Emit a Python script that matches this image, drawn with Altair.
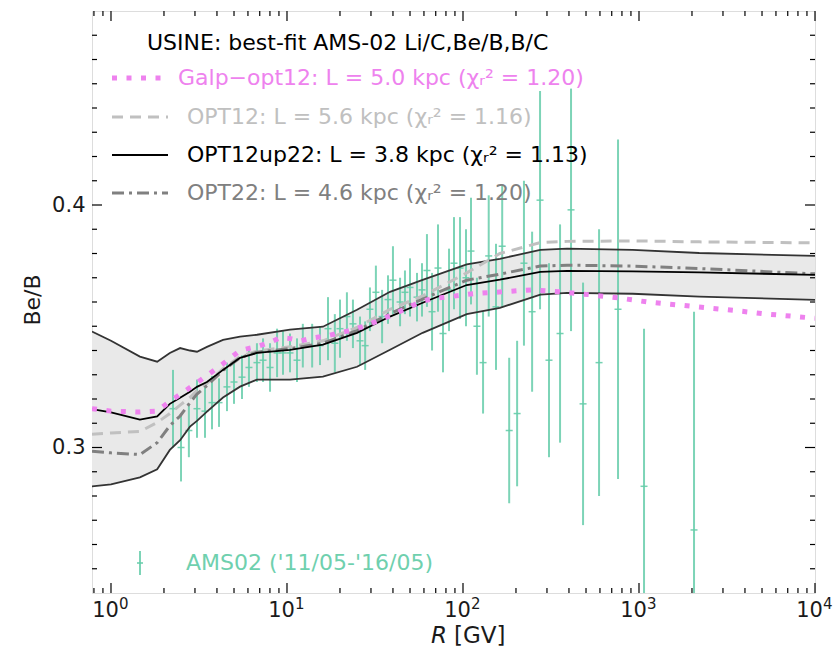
import altair as alt
import pandas as pd

# ---- model curves (Be/B vs rigidity) ----
R_MODEL = [0.78, 1.0, 1.46, 1.83, 2.16, 2.47, 2.81, 3.08, 3.51, 4.33, 5.41, 6.75,
           10.4, 16, 25, 38.5, 59, 105, 162, 275, 390, 920, 2200, 10000]
BAND_LO = [0.2840, 0.2848, 0.2877, 0.2910, 0.2990, 0.3030, 0.3086, 0.3110, 0.3148, 0.3206,
           0.3251, 0.3280, 0.3280, 0.3292, 0.3333, 0.3403, 0.3473, 0.3550, 0.3576, 0.3630,
           0.3638, 0.3634, 0.3622, 0.3609]
BAND_HI = [0.3478, 0.3440, 0.3375, 0.3354, 0.3390, 0.3410, 0.3400, 0.3395, 0.3415, 0.3444,
           0.3457, 0.3465, 0.3486, 0.3498, 0.3568, 0.3642, 0.3691, 0.3755, 0.3778, 0.3815,
           0.3820, 0.3815, 0.3802, 0.3790]
OPT12UP22 = [0.3158, 0.3145, 0.3115, 0.3128, 0.3180, 0.3205, 0.3230, 0.3250, 0.3270, 0.3320,
             0.3370, 0.3390, 0.3403, 0.3424, 0.3473, 0.3540, 0.3597, 0.3670, 0.3692, 0.3724,
             0.3728, 0.3726, 0.3722, 0.3712]
OPT12 = [0.3055, 0.3060, 0.3066, 0.3103, 0.3140, 0.3175, 0.3206, 0.3235, 0.3265, 0.3325,
         0.3375, 0.3398, 0.3415, 0.3440, 0.3495, 0.3570, 0.3625, 0.3720, 0.3800, 0.3845,
         0.3850, 0.3852, 0.3848, 0.3844]
OPT22 = [0.2985, 0.2978, 0.2971, 0.3020, 0.3090, 0.3130, 0.3185, 0.3220, 0.3255, 0.3318,
         0.3370, 0.3393, 0.3408, 0.3430, 0.3482, 0.3552, 0.3612, 0.3690, 0.3715, 0.3748,
         0.3752, 0.3748, 0.3738, 0.3716]

R_GALP = [0.78, 1.0, 1.46, 1.83, 2.16, 3.08, 4.33, 5.41, 6.75, 7.9, 9.2, 10.4, 12.0, 14.3,
          17, 24, 29, 34, 41, 47, 56, 66, 114, 166, 246, 355, 525, 760, 1120, 1660,
          2430, 3600, 5200, 10000]
GALP = [0.3160, 0.3150, 0.3146, 0.3150, 0.3190, 0.3267, 0.3345, 0.3400, 0.3416, 0.3432,
        0.3453, 0.3449, 0.3440, 0.3453, 0.3461, 0.3486, 0.3506, 0.3527, 0.3551, 0.3572,
        0.3597, 0.3613, 0.3634, 0.3642, 0.3650, 0.3642, 0.3630, 0.3617, 0.3600, 0.3588,
        0.3576, 0.3564, 0.3551, 0.3533]

# ---- AMS-02 Be/B data ----
R_AMS = [2.25, 2.50, 2.77, 3.08, 3.42, 3.75, 4.11, 4.56, 5.00, 5.55, 6.08, 6.75, 7.31,
         8.01, 8.78, 9.49, 10.4, 11.4, 12.3, 13.9, 15.4, 17.1, 18.7, 20.0, 21.9, 23.7,
         26.0, 27.8, 29.6, 32.0, 34.7, 37.5, 40.0, 43.9, 46.8, 50.0, 54.8, 58.5, 62.4,
         66.7, 72.1, 77.0, 83.3, 88.9, 96.2, 104, 111, 120, 130, 140, 154, 167, 183,
         203, 222, 247, 274, 308, 356, 411, 481, 593, 760, 1068, 2054]
BEB_AMS = [0.316, 0.300, 0.307, 0.316, 0.315, 0.3185, 0.3185, 0.325, 0.327, 0.329, 0.333,
           0.335, 0.336, 0.333, 0.339, 0.339, 0.339, 0.336, 0.342, 0.342, 0.342, 0.349,
           0.343, 0.349, 0.354, 0.351, 0.344, 0.342, 0.357, 0.364, 0.354, 0.361, 0.369,
           0.360, 0.364, 0.366, 0.362, 0.365, 0.373, 0.356, 0.374, 0.347, 0.365, 0.376,
           0.374, 0.370, 0.381, 0.350, 0.335, 0.379, 0.358, 0.383, 0.307, 0.314, 0.376,
           0.356, 0.402, 0.336, 0.347, 0.398, 0.318, 0.335, 0.357, 0.284, 0.266]
ERR_AMS = [0.016, 0.014, 0.011, 0.012, 0.011, 0.011, 0.010, 0.010, 0.009, 0.009, 0.008,
           0.008, 0.009, 0.010, 0.010, 0.009, 0.008, 0.009, 0.009, 0.009, 0.008, 0.013,
           0.012, 0.012, 0.010, 0.010, 0.010, 0.010, 0.009, 0.011, 0.011, 0.010, 0.014,
           0.010, 0.009, 0.012, 0.010, 0.011, 0.015, 0.016, 0.018, 0.016, 0.017, 0.019,
           0.021, 0.020, 0.022, 0.020, 0.021, 0.025, 0.026, 0.025, 0.030, 0.030, 0.034,
           0.033, 0.045, 0.040, 0.045, 0.050, 0.050, 0.055, 0.070, 0.065, 0.090]

# ---- axis ticks ----
X_MAJOR = [1, 10, 100, 1000, 10000]
X_EXPONENTS = ["0", "1", "2", "3", "4"]
X_MINOR = [0.8, 0.9] + [k * 10 ** d for d in range(0, 4) for k in range(2, 10)]
Y_MAJOR = [0.3, 0.4]
Y_MINOR = [round(0.25 + 0.01 * i, 2) for i in range(23) if round(0.25 + 0.01 * i, 2) not in (0.3, 0.4)]

LEGEND_TITLE = "USINE: best-fit AMS-02 Li/C,Be/B,B/C"
LEGEND_LABELS = [
    "Galp\u2212opt12: L = 5.0 kpc (\u03c7\u1d63\u00b2 = 1.20)",
    "OPT12: L = 5.6 kpc (\u03c7\u1d63\u00b2 = 1.16)",
    "OPT12up22: L = 3.8 kpc (\u03c7\u1d63\u00b2 = 1.13)",
    "OPT22: L = 4.6 kpc (\u03c7\u1d63\u00b2 = 1.20)",
]
DATA_LABEL = "AMS02 ('11/05-'16/05)"

VIOLET = "#ee82ee"
SILVER = "#c0c0c0"
GRAY = "#808080"
TEAL = "#66cdaa"
FONT = "DejaVu Sans"
LEG_SIZE = 22
TICK_SIZE = 21
TEXT_COLOR = "#1a1a1a"

W, H = 723, 582

xscale = alt.Scale(type="log", domain=[0.78, 10000], nice=False)
yscale = alt.Scale(domain=[0.24, 0.48], nice=False, zero=False)
x_axis = alt.Axis(values=X_MAJOR, title=None, ticks=False, domain=False, grid=False,
                  labelExpr="'10'", labelOffset=-6, labelPadding=6, labelFontSize=TICK_SIZE,
                  labelFont=FONT, labelColor=TEXT_COLOR, labelFlush=False)
y_axis = alt.Axis(values=Y_MAJOR, title=None, ticks=False, domain=False, grid=False,
                  format=".1f", labelPadding=7, labelFontSize=TICK_SIZE, labelFont=FONT,
                  labelColor=TEXT_COLOR)


def X(field="R"):
    return alt.X(f"{field}:Q", scale=xscale, axis=x_axis)


def Y(field="v"):
    return alt.Y(f"{field}:Q", scale=yscale, axis=y_axis)


band = pd.DataFrame({"R": R_MODEL, "lo": BAND_LO, "hi": BAND_HI})
models = pd.DataFrame({"R": R_MODEL, "up22": OPT12UP22, "opt12": OPT12, "opt22": OPT22})
galp = pd.DataFrame({"R": R_GALP, "v": GALP})
ams = pd.DataFrame({"R": R_AMS, "v": BEB_AMS, "e": ERR_AMS})
ams["lo"] = ams["v"] - ams["e"]
ams["hi"] = ams["v"] + ams["e"]

layers = []

# uncertainty band of the best-fit model
layers.append(alt.Chart(band).mark_area(color="#e9e9e9", clip=True).encode(
    x=X(), y=Y("lo"), y2="hi:Q"))

# AMS-02 points with error bars
layers.append(alt.Chart(ams).mark_rule(color=TEAL, opacity=0.85, strokeWidth=2, clip=True).encode(
    x=X(), y=Y("lo"), y2="hi:Q"))
layers.append(alt.Chart(ams).mark_tick(color=TEAL, opacity=0.9, orient="horizontal", size=7,
                                       thickness=1.5, clip=True).encode(x=X(), y=Y("v")))

# band edges
for col in ["lo", "hi"]:
    layers.append(alt.Chart(band).mark_line(color="#333333", strokeWidth=1.8, clip=True).encode(
        x=X(), y=Y(col)))

layers.append(alt.Chart(models).mark_line(color=SILVER, strokeWidth=3, strokeDash=[11, 7],
                                          clip=True).encode(x=X(), y=Y("opt12")))
layers.append(alt.Chart(models).mark_line(color=GRAY, strokeWidth=3, strokeDash=[12, 5, 3, 5],
                                          clip=True).encode(x=X(), y=Y("opt22")))
layers.append(alt.Chart(models).mark_line(color="black", strokeWidth=1.8, clip=True).encode(
    x=X(), y=Y("up22")))
layers.append(alt.Chart(galp).mark_line(color=VIOLET, strokeWidth=5, strokeDash=[5, 9.5],
                                        strokeCap="butt", clip=True).encode(x=X(), y=Y("v")))


# inward ticks on all four sides
def tick_layers(vals, length):
    tx = pd.DataFrame({"R": vals})
    return [
        alt.Chart(tx).mark_rule(color="black", strokeWidth=1.2).encode(
            x=X(), y=alt.value(H), y2=alt.value(H - length)),
        alt.Chart(tx).mark_rule(color="black", strokeWidth=1.2).encode(
            x=X(), y=alt.value(0), y2=alt.value(length)),
    ]


def ytick_layers(vals, length):
    ty = pd.DataFrame({"v": vals})
    return [
        alt.Chart(ty).mark_rule(color="black", strokeWidth=1.2).encode(
            y=Y(), x=alt.value(0), x2=alt.value(length)),
        alt.Chart(ty).mark_rule(color="black", strokeWidth=1.2).encode(
            y=Y(), x=alt.value(W), x2=alt.value(W - length)),
    ]


layers += tick_layers(X_MAJOR, 10) + tick_layers(X_MINOR, 5)
layers += ytick_layers(Y_MAJOR, 10) + ytick_layers(Y_MINOR, 5)

# exponents of the decade labels
expo = pd.DataFrame({"R": X_MAJOR, "e": X_EXPONENTS})
layers.append(alt.Chart(expo).mark_text(align="left", baseline="middle", font=FONT,
                                        fontSize=15, color=TEXT_COLOR, dx=8).encode(
    x=X(), y=alt.value(H + 11), text="e:N"))

# legend
one = pd.DataFrame({"k": [0]})


def label(txt, x, y, color="black", size=LEG_SIZE, align="left", angle=0, style="normal"):
    return alt.Chart(one).mark_text(align=align, baseline="middle", font=FONT, fontSize=size,
                                    color=color, angle=angle, fontStyle=style).encode(
        x=alt.value(x), y=alt.value(y), text=alt.value(txt))


layers.append(label(LEGEND_TITLE, 55, 32))
rows_y = [67, 106, 144, 182]
colors = [VIOLET, SILVER, "black", GRAY]
text_x = [86, 95, 95, 95]
samples = [
    dict(color=VIOLET, strokeWidth=5, strokeDash=[5, 9.5], strokeCap="butt"),
    dict(color=SILVER, strokeWidth=3, strokeDash=[11, 7]),
    dict(color="black", strokeWidth=1.8),
    dict(color=GRAY, strokeWidth=3, strokeDash=[12, 5, 3, 5]),
]
for txt, yy, col, tx, st in zip(LEGEND_LABELS, rows_y, colors, text_x, samples):
    layers.append(alt.Chart(one).mark_rule(**st).encode(
        x=alt.value(20), x2=alt.value(76), y=alt.value(yy)))
    layers.append(label(txt, tx, yy, color=col))

# data legend entry
layers.append(alt.Chart(one).mark_rule(color=TEAL, strokeWidth=2, opacity=0.85).encode(
    x=alt.value(48), y=alt.value(540), y2=alt.value(564)))
layers.append(alt.Chart(one).mark_rule(color=TEAL, strokeWidth=1.5).encode(
    x=alt.value(45), x2=alt.value(51), y=alt.value(552)))
layers.append(label(DATA_LABEL, 94, 552, color="#6fd0ae"))

# axis titles
layers.append(label("R", 355, 625, size=23, align="right", style="italic", color=TEXT_COLOR))
layers.append(label("[GV]", 362, 625, size=23, color=TEXT_COLOR))
layers.append(label("Be/B", -59, 289, size=22, align="center", angle=270, color=TEXT_COLOR))

chart = alt.layer(*layers).properties(
    width=W, height=H, autosize="none",
    padding={"left": 92, "top": 11, "right": 18, "bottom": 55},
).configure_view(stroke="black", strokeWidth=1.5).configure(background="white")

chart.save("out.html", embed_options={"renderer": "svg", "actions": False})
